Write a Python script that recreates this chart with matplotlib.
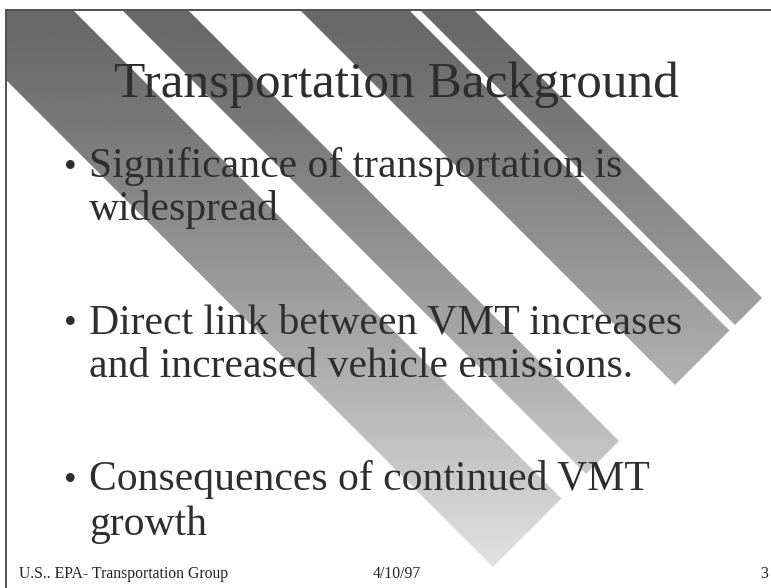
import numpy as np
import matplotlib
matplotlib.use("Agg")
import matplotlib.pyplot as plt
from matplotlib.path import Path

# ---- slide content ----
title = "Transportation Background"
bullet_lines = [
    ["Significance of transportation is", "widespread"],
    ["Direct link between VMT increases", "and increased vehicle emissions."],
    ["Consequences of continued VMT", "growth"],
]
footer_left = "U.S.. EPA- Transportation Group"
footer_mid = "4/10/97"
footer_right = "3"

# ---- canvas in pixel coordinates ----
W, H = 771, 588
fig = plt.figure(figsize=(W / 100, H / 100), dpi=100)
ax = fig.add_axes([0, 0, 1, 1])
ax.set_xlim(0, W)
ax.set_ylim(H, 0)
ax.axis("off")

# ---- decorative diagonal stripes (45 deg), ends cut perpendicular ----
band_offsets = [(-74, 63), (112, 178), (290, 399), (410, 464)]  # x - y ranges
s_end = 1060  # x + y of stripe ends
top, left = 11, 7
codes = [Path.MOVETO, Path.LINETO, Path.LINETO, Path.LINETO, Path.CLOSEPOLY]
paths = []
for c1, c2 in band_offsets:
    verts = [(c1 + top, top), (c2 + top, top),
             ((s_end + c2) / 2, (s_end - c2) / 2),
             ((s_end + c1) / 2, (s_end - c1) / 2),
             (c1 + top, top)]
    paths.append(Path(verts, codes))
stripes = Path.make_compound_path(*paths)

yy = np.linspace(top, 575, 400)
t = (yy - top) / (575 - top)
gray = 104 + 124 * t ** 1.25
img = np.repeat(gray[:, None], 2, axis=1)
im = ax.imshow(img, cmap="gray", vmin=0, vmax=255, extent=(left, W, 575, top),
               aspect="auto", interpolation="bilinear", zorder=1)
im.set_clip_path(stripes, ax.transData)
ax.set_xlim(0, W)
ax.set_ylim(H, 0)

# ---- frame lines ----
ax.plot([5, W], [10, 10], color="#505050", lw=1.4, zorder=3, solid_capstyle="butt")
ax.plot([5.5, 5.5], [10, H], color="#505050", lw=1.4, zorder=3, solid_capstyle="butt")

# ---- text ----
serif = "Liberation Serif"
txt_col = "#2e2e2e"
ax.text(396, 97, title, fontsize=37, family=serif, color=txt_col,
        ha="center", va="baseline", zorder=5)

bullet_baselines = [(177, 220), (333, 377), (490, 535)]
for lines, (b1, b2) in zip(bullet_lines, bullet_baselines):
    ax.text(70, b1, "\u2022", fontsize=26, family=serif, color=txt_col,
            ha="center", va="baseline", zorder=5)
    ax.text(89, b1, lines[0], fontsize=30, family=serif, color=txt_col,
            ha="left", va="baseline", zorder=5)
    ax.text(89, b2, lines[1], fontsize=30, family=serif, color=txt_col,
            ha="left", va="baseline", zorder=5)

ax.text(19, 578, footer_left, fontsize=11.3, family=serif, color="#222222",
        ha="left", va="baseline", zorder=5)
ax.text(373, 578, footer_mid, fontsize=11.3, family=serif, color="#222222",
        ha="left", va="baseline", zorder=5)
ax.text(768, 578, footer_right, fontsize=11.3, family=serif, color="#222222",
        ha="right", va="baseline", zorder=5)

fig.savefig("out.png", dpi=100)
